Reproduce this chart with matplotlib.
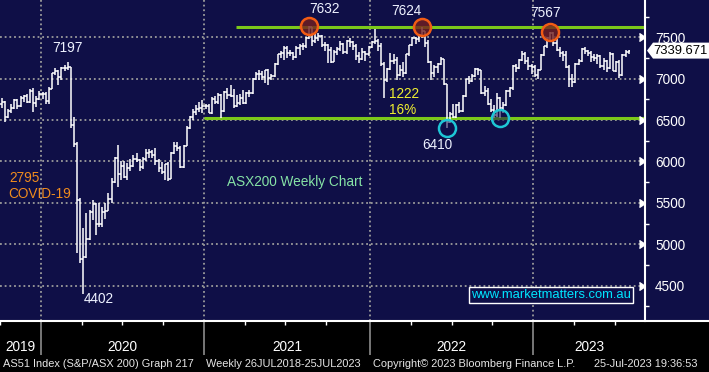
import numpy as np
import matplotlib.pyplot as plt
from matplotlib.transforms import blended_transform_factory
from matplotlib.lines import Line2D
from matplotlib.patches import Rectangle, Polygon

plt.rcParams['font.family'] = ['Liberation Sans', 'DejaVu Sans']

# ASX200 weekly bars. index 0 = week ending 3 Jan 2020, first bar = 27 Sep 2019
first_week = -14
opens = [6700, 6717, 6536, 6608, 6651, 6737, 6670, 6772, 6795, 6720,
         6846, 6707, 6750, 6816, 6821, 6735, 6875, 7065, 7090, 7017,
         7130, 7125, 7139, 6441, 6217, 5539, 4816, 4842, 5068, 5388,
         5487, 5242, 5245, 5391, 5404, 5550, 5755, 6043, 5847, 5942,
         5818, 5920, 5951, 6034, 6022, 5928, 6032, 6105, 6113, 6073,
         6010, 5920, 5877, 5965, 5792, 6101, 6190, 6169, 5928, 6190,
         6405, 6539, 6601, 6636, 6642, 6676, 6665, 6587, 6758, 6715,
         6800, 6607, 6840, 6805, 6793, 6673, 6710, 6767, 6708, 6824,
         6828, 6995, 7063, 7061, 7025, 7100, 7014, 7030, 7179, 7295,
         7312, 7368, 7308, 7309, 7266, 7366, 7394, 7392, 7490, 7628,
         7460, 7488, 7522, 7404, 7403, 7342, 7206, 7320, 7363, 7416,
         7324, 7457, 7443, 7396, 7279, 7242, 7327, 7293, 7387, 7445,
         7453, 7393, 7173, 6988, 7120, 7217, 7225, 7049, 7111, 7064,
         7295, 7406, 7493, 7478, 7523, 7574, 7435, 7205, 7075, 7146,
         7182, 7238, 6932, 6475, 6578, 6539, 6678, 6605, 6792, 6993,
         6974, 7033, 7115, 7105, 6828, 6855, 6700, 6620, 6560, 6762,
         6645, 6677, 6846, 6892, 7158, 7135, 7229, 7301, 7213, 7148,
         7140, 7039, 7110, 7290, 7396, 7494, 7558, 7434, 7346, 7307,
         7284, 7144, 6995, 6955, 7178, 7218, 7362, 7337, 7309, 7264,
         7256, 7279, 7154, 7216, 7124, 7294, 7099, 7203, 7042, 7281, 7323]
highs = [6770, 6730, 6640, 6700, 6760, 6750, 6790, 6800, 6810, 6880,
         6890, 6790, 6850, 6840, 6840, 6900, 7070, 7130, 7100, 7140,
         7170, 7197, 7145, 6540, 6230, 5560, 5200, 5380, 5415, 5535,
         5500, 5500, 5450, 5500, 5620, 5800, 6060, 6200, 6000, 6010,
         5980, 6030, 6080, 6100, 6030, 6060, 6150, 6150, 6140, 6160,
         6030, 5990, 5970, 5990, 6120, 6235, 6230, 6190, 6200, 6430,
         6545, 6640, 6680, 6720, 6740, 6700, 6700, 6780, 6790, 6830,
         6810, 6850, 6890, 6925, 6880, 6800, 6810, 6860, 6840, 6860,
         7010, 7080, 7100, 7090, 7110, 7120, 7060, 7190, 7300, 7330,
         7390, 7390, 7350, 7320, 7390, 7420, 7430, 7500, 7632, 7630,
         7540, 7550, 7530, 7440, 7420, 7380, 7350, 7380, 7450, 7430,
         7470, 7490, 7460, 7420, 7320, 7370, 7340, 7400, 7450, 7600,
         7480, 7430, 7200, 7130, 7310, 7300, 7260, 7160, 7200, 7300,
         7410, 7510, 7510, 7540, 7624, 7580, 7470, 7220, 7160, 7190,
         7260, 7240, 6940, 6600, 6700, 6700, 6720, 6800, 7000, 7030,
         7060, 7130, 7130, 7110, 6910, 6890, 6760, 6680, 6830, 6780,
         6720, 6860, 6900, 7160, 7180, 7240, 7330, 7320, 7260, 7180,
         7160, 7120, 7300, 7400, 7500, 7567, 7560, 7480, 7380, 7330,
         7340, 7160, 7060, 7190, 7240, 7370, 7380, 7350, 7330, 7300,
         7300, 7290, 7250, 7230, 7320, 7310, 7220, 7230, 7300, 7350, 7350]
lows = [6650, 6478, 6520, 6590, 6640, 6640, 6660, 6720, 6710, 6710,
        6600, 6660, 6740, 6760, 6690, 6690, 6870, 7040, 6930, 6980,
        7090, 7100, 6405, 6180, 4890, 4776, 4402, 4840, 5050, 5290,
        5110, 5210, 5210, 5300, 5400, 5500, 5740, 5690, 5780, 5800,
        5780, 5880, 5930, 5990, 5890, 5910, 6010, 6040, 6040, 5960,
        5870, 5850, 5780, 5770, 5790, 6090, 6130, 5920, 5925, 6190,
        6390, 6500, 6560, 6600, 6580, 6630, 6580, 6570, 6690, 6700,
        6525, 6600, 6760, 6780, 6650, 6660, 6680, 6690, 6690, 6780,
        6810, 6980, 6990, 6990, 6950, 6930, 6990, 7020, 7170, 7250,
        7230, 7250, 7270, 7225, 7250, 7290, 7350, 7370, 7480, 7400,
        7430, 7450, 7380, 7330, 7190, 7190, 7200, 7290, 7340, 7300,
        7300, 7380, 7350, 7230, 7190, 7230, 7210, 7280, 7370, 7420,
        7340, 7150, 6766, 6960, 7100, 7180, 6980, 7030, 7020, 7060,
        7280, 7390, 7420, 7440, 7490, 7380, 7190, 6980, 7020, 7070,
        7160, 6920, 6410, 6460, 6530, 6520, 6580, 6600, 6780, 6940,
        6960, 7020, 7040, 6820, 6790, 6680, 6600, 6530, 6540, 6520,
        6580, 6670, 6780, 6860, 7080, 7120, 7220, 7180, 7100, 7060,
        7020, 7000, 7100, 7270, 7370, 7460, 7400, 7330, 7260, 7210,
        7130, 6900, 6900, 6950, 7170, 7200, 7300, 7270, 7200, 7220,
        7180, 7130, 7110, 7080, 7120, 7090, 7080, 7005, 7030, 7260, 7300]
closes = [6717, 6536, 6608, 6651, 6737, 6670, 6772, 6795, 6720, 6846,
          6707, 6750, 6816, 6821, 6735, 6875, 7065, 7090, 7017, 7130,
          7125, 7139, 6441, 6217, 5539, 4816, 4842, 5068, 5388, 5487,
          5242, 5245, 5391, 5404, 5550, 5755, 6043, 5847, 5942, 5818,
          5920, 5951, 6034, 6022, 5928, 6032, 6105, 6113, 6073, 6010,
          5920, 5877, 5965, 5792, 6101, 6190, 6169, 5928, 6190, 6405,
          6539, 6601, 6636, 6642, 6676, 6665, 6587, 6758, 6715, 6800,
          6607, 6840, 6805, 6793, 6673, 6710, 6767, 6708, 6824, 6828,
          6995, 7063, 7061, 7025, 7100, 7014, 7030, 7179, 7295, 7312,
          7368, 7308, 7309, 7266, 7366, 7394, 7392, 7490, 7628, 7460,
          7488, 7522, 7404, 7403, 7342, 7206, 7320, 7363, 7416, 7324,
          7457, 7443, 7396, 7279, 7242, 7327, 7293, 7387, 7445, 7453,
          7393, 7173, 6988, 7120, 7217, 7225, 7049, 7111, 7064, 7295,
          7406, 7493, 7478, 7523, 7574, 7435, 7205, 7075, 7146, 7182,
          7238, 6932, 6475, 6578, 6539, 6678, 6605, 6792, 6993, 6974,
          7033, 7115, 7105, 6828, 6855, 6700, 6620, 6560, 6762, 6645,
          6677, 6846, 6892, 7158, 7135, 7229, 7301, 7213, 7148, 7140,
          7039, 7110, 7290, 7396, 7494, 7558, 7434, 7346, 7307, 7284,
          7144, 6995, 6955, 7178, 7218, 7362, 7337, 7309, 7264, 7256,
          7279, 7154, 7216, 7124, 7294, 7099, 7203, 7042, 7281, 7323, 7340]

year_names = ['2019', '2020', '2021', '2022', '2023']
year_edges = [-1.5, 50.5, 103.5, 155.5]
price_ticks = [4500, 5000, 5500, 6000, 6500, 7000, 7500]
minor_ticks = [4250, 4750, 5250, 5750, 6250, 6750, 7250, 7750]

covid_high_week, covid_low_week = 7, 12
peak_weeks = [84, 120, 161]
trough_weeks = [128, 145]
resistance = 7630
support = 6520
last_price = 7339.671

footer = [("AS51 Index (S&P/ASX 200) Graph 217", 3),
          ("Weekly 26JUL2018-25JUL2023", 206),
          ("Copyright\u00a9 2023 Bloomberg Finance L.P.", 373),
          ("25-Jul-2023 19:36:53", 594)]

NAVY = '#0f0f47'
GRID = '#9c9c9c'
GREEN = '#7cc81a'

weeks = np.arange(first_week, first_week + len(closes))
opens = np.array(opens); highs = np.array(highs)
lows = np.array(lows); closes = np.array(closes)

def wk(i):
    return i - first_week

W, H = 709, 372
fig = plt.figure(figsize=(W/100, H/100), dpi=100, facecolor=NAVY)
ax = fig.add_axes([0, 51/H, 645/W, 321/H])
ax.set_facecolor(NAVY)
fig.add_artist(Rectangle((0, 0), 1, 51/H, transform=fig.transFigure,
                         facecolor='black', edgecolor='none', zorder=0))

xmin, xmax = -14.58, 191.2
ax.set_xlim(xmin, xmax)
ax.set_ylim(4073, 7951)

# dotted grid
ax.hlines(price_ticks, xmin, xmax, color=GRID, lw=1.3, linestyle=(0, (1, 1.6)), zorder=1)
ax.vlines(year_edges, 4073, 7951, color=GRID, lw=1.3, linestyle=(0, (1, 1.6)), zorder=1)

# support / resistance
ax.hlines(resistance, 60.7, xmax, color=GREEN, lw=2.2, zorder=2)
ax.hlines(support, year_edges[1], xmax, color=GREEN, lw=2.2, zorder=2)

# bars
ax.vlines(weeks, lows, highs, color='white', lw=1.1, zorder=3)
ax.hlines(opens, weeks - 0.5, weeks, color='white', lw=1.1, zorder=3)
ax.hlines(closes, weeks, weeks + 0.5, color='white', lw=1.1, zorder=3)

# circles on turning points
pk = [wk(i) for i in peak_weeks]
tr = [wk(i) for i in trough_weeks]
ax.scatter(weeks[pk], highs[pk], s=150, facecolor=(0.45, 0.12, 0.12, 0.8),
           edgecolor='#f25c14', lw=1.8, zorder=5)
ax.scatter(weeks[tr], lows[tr], s=150, facecolor=(0.06, 0.06, 0.3, 0.55),
           edgecolor='#1ec6d6', lw=1.8, zorder=5)

LBL = '#eef2ff'
fs = 9.8
ax.text(7, 7371, f"{highs[wk(covid_high_week)]}", color=LBL, fontsize=fs, ha='center', va='center')
ax.text(17, 4339, f"{lows[wk(covid_low_week)]}", color=LBL, fontsize=fs, ha='center', va='center')
peak_offsets = [(5, 7838), (-4.8, 7818), (-1.7, 7794)]
for i, (dx, yy) in zip(peak_weeks, peak_offsets):
    ax.text(i + dx, yy, f"{highs[wk(i)]}", color=LBL, fontsize=fs, ha='center', va='center')
ax.text(124.8, 6199, f"{lows[wk(trough_weeks[0])]}", color=LBL, fontsize=fs, ha='center', va='center')

drop = highs[wk(peak_weeks[0])] - lows[wk(trough_weeks[0])]
ax.text(114.3, 6815, f"{drop}", color='#f0f030', fontsize=fs, ha='center', va='center')
ax.text(114.0, 6622, f"{drop / highs[wk(peak_weeks[0])] * 100:.0f}%", color='#f0f030',
        fontsize=fs, ha='center', va='center')

covid_drop = highs[wk(covid_high_week)] - lows[wk(covid_low_week)]
ax.text(-6.9, 5800, f"{covid_drop}", color='#f08c1e', fontsize=fs, ha='center', va='center')
ax.text(-2.0, 5607, "COVID-19", color='#f08c1e', fontsize=fs, ha='center', va='center')
ax.text(79.3, 5756, "ASX200 Weekly Chart", color='#86e3a6', fontsize=fs, ha='center', va='center')
ax.text(161.2, 4384, "www.marketmatters.com.au", color='#00e6ff', fontsize=9.4,
        ha='center', va='center',
        bbox=dict(boxstyle='square,pad=0.15', fc=NAVY, ec='white', lw=1))

# right axis
for s in ['top', 'left', 'bottom']:
    ax.spines[s].set_visible(False)
ax.spines['right'].set_color('white')
ax.spines['right'].set_linewidth(1.5)
ax.set_xticks([])
ax.yaxis.tick_right()
ax.set_yticks(price_ticks)
ax.set_yticks(minor_ticks, minor=True)
ax.tick_params(axis='y', which='major', length=0, pad=7.2, labelcolor='white', labelsize=fs)
ax.tick_params(axis='y', which='minor', length=3, width=1, color='white')
trans_r = blended_transform_factory(ax.transAxes, ax.transData)
ax.plot(np.ones(len(price_ticks)), price_ticks, transform=trans_r, marker=5, ms=6,
        color='white', ls='none', clip_on=False)

# last price flag
tf = blended_transform_factory(fig.transFigure, ax.transData)
d = 8 * 12.06
flag = Polygon([(647/W, last_price), (653/W, last_price + d), (1.0, last_price + d),
                (1.0, last_price - d), (653/W, last_price - d)], closed=True,
               transform=tf, facecolor='white', edgecolor='none')
fig.add_artist(flag)
fig.text(653/W, 0, f"{last_price}", transform=tf, color='black', fontsize=9.4,
         ha='left', va='center').set_y(last_price)

# bottom time axis
fig.add_artist(Line2D([0, 1], [51/H, 51/H], transform=fig.transFigure, color='white', lw=1.5))
trans_b = blended_transform_factory(ax.transData, fig.transFigure)
quarters = [year_edges[0] - 13] + [e + 13 * k for e in year_edges for k in (1, 2, 3)]
quarters = [q for q in quarters if xmin <= q <= xmax]
ax.vlines(quarters, 47/H, 51/H, transform=trans_b, color='white', lw=1, clip_on=False)
ax.vlines(year_edges, 17/H, 51/H, transform=trans_b, color='#8c8c8c', lw=1.2, clip_on=False)
spans = [xmin] + year_edges + [xmax]
for name, a, b in zip(year_names, spans[:-1], spans[1:]):
    ax.text((a + b) / 2, 1 - 347/H, name, transform=trans_b, color='white', fontsize=fs,
            ha='center', va='center', clip_on=False)

for txt, px in footer:
    fig.text(px/W, 1 - 364/H, txt, color='#e6e6e6', fontsize=7.9,
             ha='left', va='center')

fig.savefig('out.png', dpi=100, facecolor=NAVY)
